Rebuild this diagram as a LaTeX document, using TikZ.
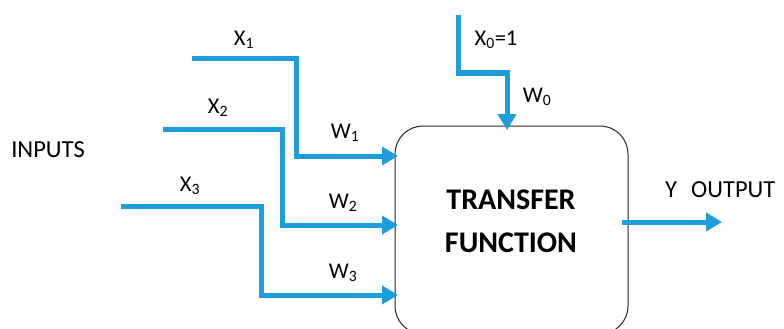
\documentclass[tikz,border=0pt]{standalone}
\usepackage{fontspec}
\setmainfont{Carlito}
\usetikzlibrary{arrows.meta}
\definecolor{nblue}{RGB}{30,157,220}
\begin{document}
\begin{tikzpicture}[x=1pt,y=-1pt,
  wire/.style={line width=5pt,draw=nblue,-{Triangle[length=16pt,width=18pt]}},
  lbl/.style={inner sep=0pt,font=\fontsize{22.5}{27}\selectfont},
  big/.style={inner sep=0pt,font=\fontsize{24.5}{29}\selectfont},
  boxstyle/.style={draw=black!85,line width=1pt,rounded corners=28pt,minimum width=233pt,minimum height=208pt,inner sep=0pt}]
\useasboundingbox (0,0) rectangle (784,329);
\clip (0,0) rectangle (784,329);
% box
\node[boxstyle] (box) at (511.5,230) {};
\node[align=center,inner sep=0pt,font=\fontsize{30}{43}\selectfont\bfseries] (tf) at (511,221) {TRANSFER\\FUNCTION};
% labels
\node[big] (inputs) at (48,150) {INPUTS};
\node[lbl] (lx1) at (244,40) {X\textsubscript{1}};
\node[lbl] (lx2) at (218,108) {X\textsubscript{2}};
\node[lbl] (lx3) at (190,186) {X\textsubscript{3}};
\node[lbl] (lw1) at (345,133) {W\textsubscript{1}};
\node[lbl] (lw2) at (343,203) {W\textsubscript{2}};
\node[lbl] (lw3) at (343,273) {W\textsubscript{3}};
\node[lbl] (lx0) at (496,40) {X\textsubscript{0}=1};
\node[lbl] (lw0) at (537,97) {W\textsubscript{0}};
\node[big,anchor=west] (lout) at (665,190) {Y\hspace{14pt}OUTPUT};
% coordinates
\coordinate (x1s) at (192,59);
\coordinate (x1c) at (296,156);
\coordinate (x2s) at (163,129);
\coordinate (x2c) at (282,225);
\coordinate (x3s) at (121,206);
\coordinate (x3c) at (261,295);
\coordinate (x0s) at (458,15);
\coordinate (x0c) at (507,73);
\coordinate (x0e) at (507,130);
\coordinate (ys) at (622,222);
\coordinate (ye) at (722,222);
\coordinate (w1e) at (398,156);
\coordinate (w2e) at (398,225);
\coordinate (w3e) at (398,295);
% wires
\draw[wire] (x1s) -| (x1c) -- (w1e);
\draw[wire] (x2s) -| (x2c) -- (w2e);
\draw[wire] (x3s) -| (x3c) -- (w3e);
\draw[wire] (x0s) |- (x0c) -- (x0e);
\draw[wire] (ys) -- (ye);
\end{tikzpicture}
\end{document}
